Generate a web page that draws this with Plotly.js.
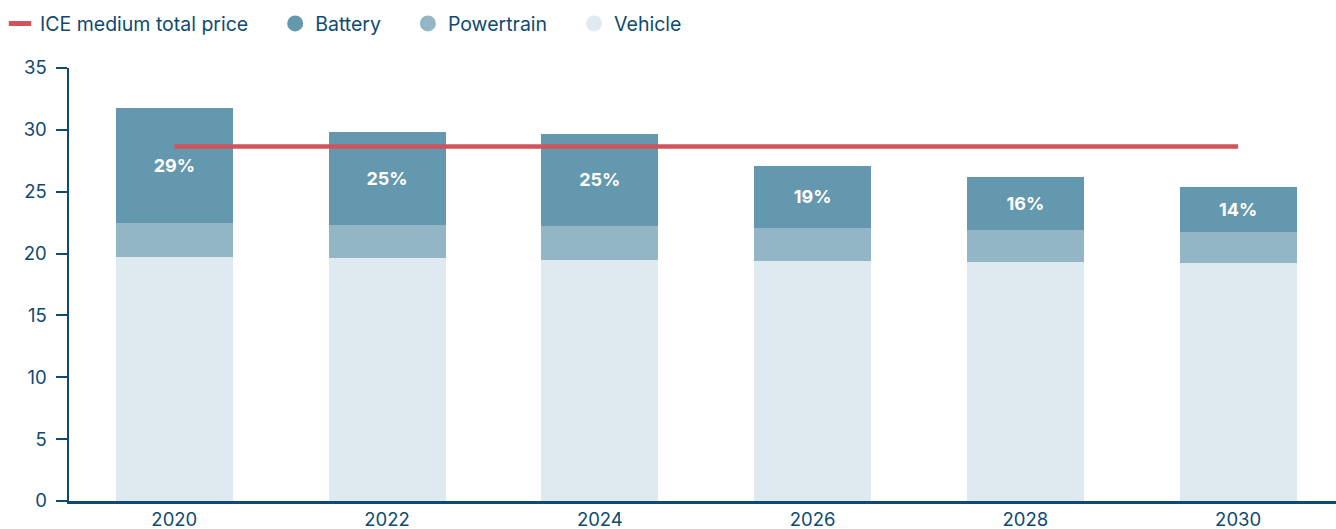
<!DOCTYPE html>
<html>
<head>
<meta charset="utf-8">
<script src="https://cdn.plot.ly/plotly-3.0.1.min.js"></script>
<style>
html,body{margin:0;padding:0;background:#fff;}
#chart{width:1336px;height:529px;}
</style>
</head>
<body>
<div id="chart"></div>
<script>
const years = [2020, 2022, 2024, 2026, 2028, 2030];
const vehicle = [19.74, 19.66, 19.50, 19.42, 19.34, 19.26];
const powertrain = [2.75, 2.67, 2.75, 2.67, 2.59, 2.50];
const battery = [9.28, 7.52, 7.44, 5.01, 4.28, 3.64];
const batteryShare = ['29%', '25%', '25%', '19%', '16%', '14%'];
const iceYears = [2020, 2030];
const icePrice = [28.66, 28.66];
const legendNames = ['ICE medium total price', 'Battery', 'Powertrain', 'Vehicle'];

const AX = '#0e4a72';
const FONT = 'Inter, "Open Sans", sans-serif';
const C_BAT = '#6498ae';
const C_PT = '#92b6c6';
const C_VEH = '#dee9f0';
const C_ICE = '#d0545c';
const PAD = '\u00a0\u00a0\u00a0\u00a0';

const traces = [
  {type:'bar', x:years, y:vehicle, name:'Vehicle', marker:{color:C_VEH}, width:1.1, showlegend:false, hoverinfo:'skip'},
  {type:'bar', x:years, y:powertrain, name:'Powertrain', marker:{color:C_PT}, width:1.1, showlegend:false, hoverinfo:'skip'},
  {type:'bar', x:years, y:battery, name:'Battery', marker:{color:C_BAT}, width:1.1, showlegend:false,
   text:batteryShare, textposition:'inside', insidetextanchor:'middle',
   textfont:{color:'#ffffff', size:18, family:FONT, weight:700}, hoverinfo:'skip'},
  {type:'scatter', mode:'lines', x:iceYears, y:icePrice, name:'ICE medium total price',
   line:{color:C_ICE, width:4.5}, showlegend:false, hoverinfo:'skip'},
  // legend entries
  {type:'scatter', mode:'markers', x:[null], y:[null], name:legendNames[0] + PAD,
   marker:{symbol:'line-ew-open', size:19, line:{color:C_ICE, width:5}, color:C_ICE}},
  {type:'scatter', mode:'markers', x:[null], y:[null], name:legendNames[1] + PAD, marker:{symbol:'circle', size:16, color:C_BAT}},
  {type:'scatter', mode:'markers', x:[null], y:[null], name:legendNames[2] + PAD, marker:{symbol:'circle', size:16, color:C_PT}},
  {type:'scatter', mode:'markers', x:[null], y:[null], name:legendNames[3], marker:{symbol:'circle', size:16, color:C_VEH}}
];

const layout = {
  width:1336, height:529,
  margin:{l:69, r:0, t:68, b:28},
  barmode:'stack',
  paper_bgcolor:'#fff', plot_bgcolor:'#fff',
  font:{family:FONT, color:AX, size:18},
  showlegend:true,
  legend:{orientation:'h', x:0, xref:'container', xanchor:'left', y:0.992, yref:'container', yanchor:'top',
          font:{family:FONT, size:19.5, color:AX}, itemsizing:'trace', traceorder:'normal'},
  xaxis:{range:[2019.01, 2030.92], tickvals:years, ticktext:years.map(String),
         showgrid:false, zeroline:false, showline:true, linecolor:AX, linewidth:2.5,
         ticks:'', tickfont:{family:FONT, size:18.5, color:AX}, ticklabelstandoff:0, fixedrange:true},
  yaxis:{range:[0, 35], dtick:5, showgrid:false, zeroline:false, showline:true,
         linecolor:AX, linewidth:2.5, ticks:'outside', ticklen:11, tickwidth:2, tickcolor:AX,
         tickfont:{family:FONT, size:18.5, color:AX}, ticklabelstandoff:5, fixedrange:true}
};

Plotly.newPlot('chart', traces, layout, {displayModeBar:false, staticPlot:true});
</script>
</body>
</html>
